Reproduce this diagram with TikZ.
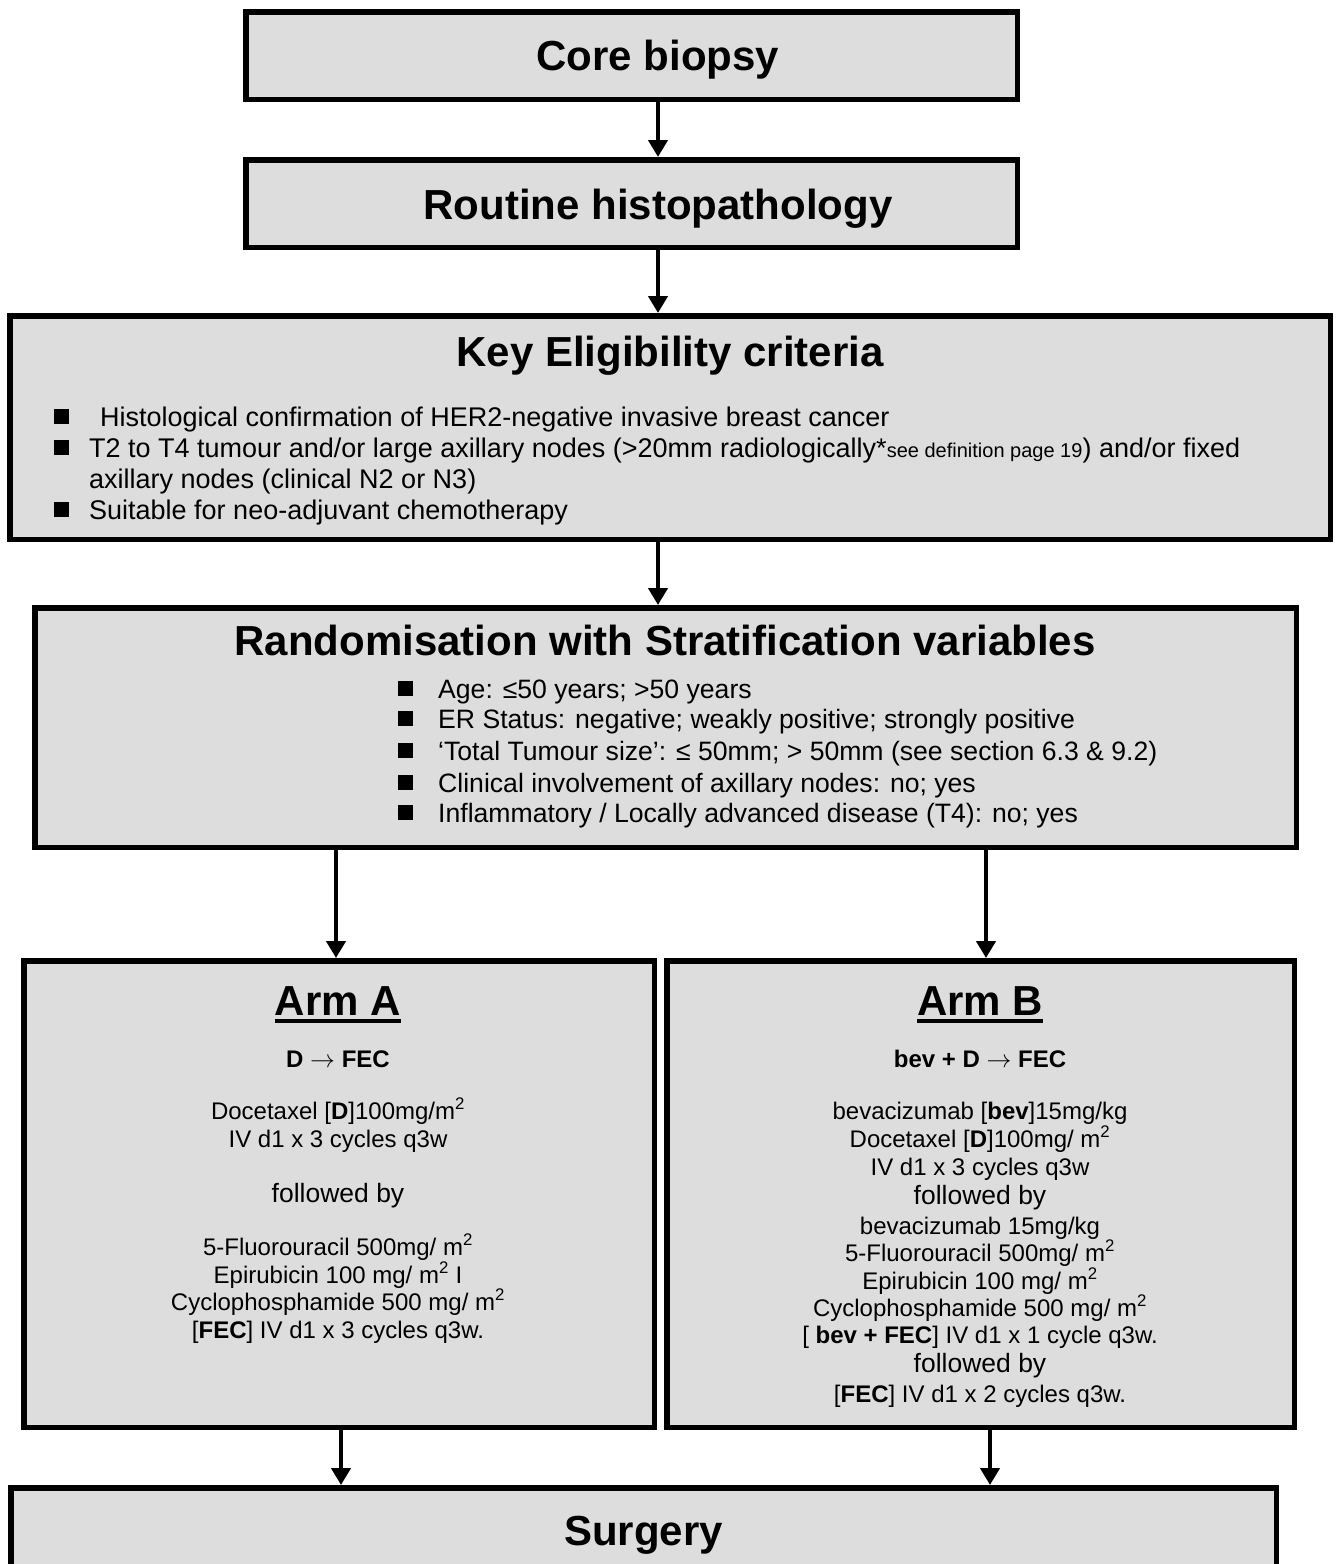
\documentclass[tikz,border=0pt]{standalone}
\usepackage{fontspec}
\setmainfont{Liberation Sans}
\usetikzlibrary{arrows.meta}
\definecolor{boxgray}{RGB}{221,221,221}
\begin{document}
\begin{tikzpicture}[x=1pt,y=-1pt,
  flowbox/.style={draw=black, line width=5.5pt, fill=boxgray, inner sep=0pt, rectangle},
  ttl/.style={font=\fontsize{42}{50}\selectfont\bfseries, inner sep=0pt, anchor=base},
  body/.style={font=\fontsize{27}{30}\selectfont, inner sep=0pt, anchor=base west},
  rbody/.style={font=\fontsize{26.6}{30}\selectfont, inner sep=0pt, anchor=base west},
  small/.style={font=\fontsize{24}{28}\selectfont, inner sep=0pt, anchor=base},
  smallb/.style={font=\fontsize{24}{28}\selectfont\bfseries, inner sep=0pt, anchor=base},
  fol/.style={font=\fontsize{26.5}{30}\selectfont, inner sep=0pt, anchor=base},
  sq/.style={fill=black, minimum size=15pt, inner sep=0pt, rectangle},
  arr/.style={line width=4.5pt, -{Triangle[width=19pt,length=17pt]}}]
\clip (0,0) rectangle (1336,1564);
\fill[white] (0,0) rectangle (1336,1564);

% boxes
\node[flowbox, minimum width=771.5pt, minimum height=87.5pt] (core) at (631.5,55.5) {};
\node[flowbox, minimum width=771.5pt, minimum height=87.5pt] (hist) at (631.5,203.5) {};
\node[flowbox, minimum width=1320.5pt, minimum height=223.5pt] (key) at (670,427.5) {};
\node[flowbox, minimum width=1261.5pt, minimum height=239.5pt] (rand) at (665.5,727.5) {};
\node[flowbox, minimum width=630.5pt, minimum height=466.5pt] (armA) at (339,1194) {};
\node[flowbox, minimum width=627.5pt, minimum height=466.5pt] (armB) at (980.5,1194) {};
\node[flowbox, minimum width=1265.5pt, minimum height=129.5pt] (surg) at (643.5,1552.5) {};

% titles
\node[ttl] (tcore) at (658,70) {Core biopsy};
\node[ttl] (thist) at (658,219) {Routine histopathology};
\node[ttl] (tkey) at (670,366) {Key Eligibility criteria};
\node[ttl] (trand) at (665,655) {Randomisation with Stratification variables};
\node[ttl] (tA) at (338,1015) {Arm A};
\node[ttl] (tB) at (980,1015) {Arm B};
\node[ttl] (tsurg) at (643.5,1545) {Surgery};
\draw[line width=4pt] ([yshift=-6pt]tA.base west) -- ([yshift=-6pt]tA.base east);
\draw[line width=4pt] ([yshift=-6pt]tB.base west) -- ([yshift=-6pt]tB.base east);

% key eligibility bullets
\node[sq] (kb1) at (61,416.5) {};
\node[sq] (kb2) at (61,447.5) {};
\node[sq] (kb3) at (61,509.5) {};
\node[body] (k1) at (100,426) {Histological confirmation of HER2-negative invasive breast cancer};
\node[body] (k2) at (89,457) {T2 to T4 tumour and/or large axillary nodes (>20mm radiologically*{\fontsize{20}{24}\selectfont see definition page 19}) and/or fixed};
\node[body] (k3) at (89,488) {axillary nodes (clinical N2 or N3)};
\node[body] (k4) at (89,519) {Suitable for neo-adjuvant chemotherapy};

% randomisation bullets
\node[sq] (rb1) at (405.5,688.5) {};
\node[sq] (rb2) at (405.5,718.5) {};
\node[sq] (rb3) at (405.5,750.5) {};
\node[sq] (rb4) at (405.5,782.5) {};
\node[sq] (rb5) at (405.5,812.5) {};
\node[rbody] (r1) at (438,698) {Age: ≤50 years; >50 years};
\node[rbody] (r2) at (438,728) {ER Status: negative; weakly positive; strongly positive};
\node[rbody] (r3) at (438,760) {‘Total Tumour size’: ≤ 50mm; > 50mm (see section 6.3 \& 9.2)};
\node[rbody] (r4) at (438,792) {Clinical involvement of axillary nodes: no; yes};
\node[rbody] (r5) at (438,822) {Inflammatory / Locally advanced disease (T4): no; yes};

% arm A text
\node[smallb] (a0) at (338,1067) {D $\rightarrow$ FEC};
\node[small] (a1) at (338,1119) {Docetaxel [\textbf{D}]100mg/m\textsuperscript{2}};
\node[small] (a2) at (338,1147) {IV d1 x 3 cycles q3w};
\node[fol] (a3) at (338,1202) {followed by};
\node[small] (a4) at (338,1255) {5-Fluorouracil 500mg/ m\textsuperscript{2}};
\node[small] (a5) at (338,1283) {Epirubicin 100 mg/ m\textsuperscript{2} I};
\node[small] (a6) at (338,1310) {Cyclophosphamide 500 mg/ m\textsuperscript{2}};
\node[small] (a7) at (338,1338) {[\textbf{FEC}] IV d1 x 3 cycles q3w.};

% arm B text
\node[smallb] (b0) at (980,1067) {bev + D $\rightarrow$ FEC};
\node[small] (b1) at (980,1119) {bevacizumab [\textbf{bev}]15mg/kg};
\node[small] (b2) at (980,1147) {Docetaxel [\textbf{D}]100mg/ m\textsuperscript{2}};
\node[small] (b3) at (980,1175) {IV d1 x 3 cycles q3w};
\node[fol] (b4) at (980,1204) {followed by};
\node[small] (b5) at (980,1234) {bevacizumab 15mg/kg};
\node[small] (b6) at (980,1261) {5-Fluorouracil 500mg/ m\textsuperscript{2}};
\node[small] (b7) at (980,1289) {Epirubicin 100 mg/ m\textsuperscript{2}};
\node[small] (b8) at (980,1316) {Cyclophosphamide 500 mg/ m\textsuperscript{2}};
\node[small] (b9) at (980,1343) {[ \textbf{bev + FEC}] IV d1 x 1 cycle q3w.};
\node[fol] (b10) at (980,1372) {followed by};
\node[small] (b11) at (980,1402) {[\textbf{FEC}] IV d1 x 2 cycles q3w.};

% connectors
\coordinate (ax1) at (658,0);
\coordinate (axA) at (336,0);
\coordinate (axB) at (986,0);
\coordinate (axC) at (341,0);
\coordinate (axD) at (990,0);
\draw[arr] (core.south -| ax1) -- (hist.north -| ax1);
\draw[arr] (hist.south -| ax1) -- (key.north -| ax1);
\draw[arr] (key.south -| ax1) -- (rand.north -| ax1);
\draw[arr] (rand.south -| axA) -- (armA.north -| axA);
\draw[arr] (rand.south -| axB) -- (armB.north -| axB);
\draw[arr] (armA.south -| axC) -- (surg.north -| axC);
\draw[arr] (armB.south -| axD) -- (surg.north -| axD);
\end{tikzpicture}
\end{document}
